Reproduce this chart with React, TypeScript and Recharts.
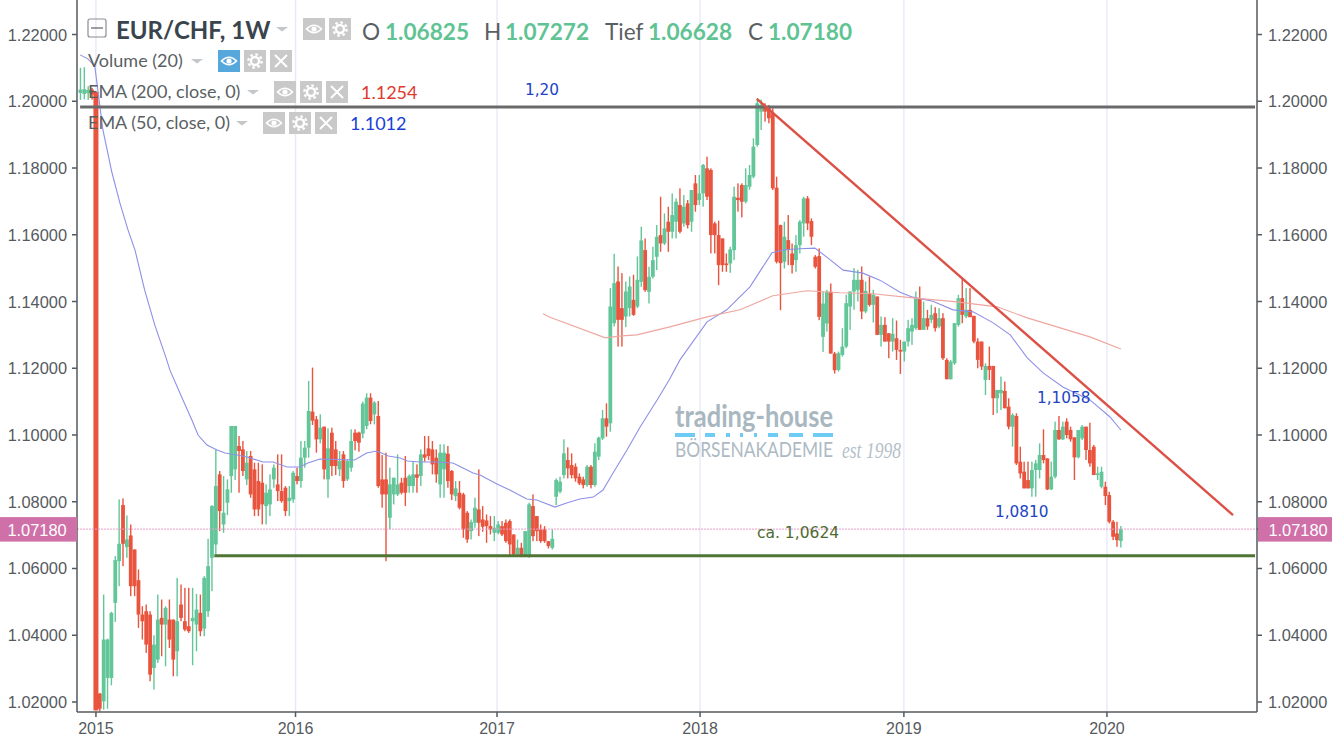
import React from "react";
import { ComposedChart, Bar, Line, XAxis, YAxis, CartesianGrid, ReferenceLine } from "recharts";

const WIDTH = 1332;
const HEIGHT = 741;
const UP = "#62c699";
const DOWN = "#e9543f";
const AXIS = "#555a5e";
const GRID = "#e9e9f6";

const yTicks = [1.02, 1.04, 1.06, 1.08, 1.1, 1.12, 1.14, 1.16, 1.18, 1.2, 1.22];
const lastPrice = 1.0718;
const yearTicks = [0, 51.6, 103.7, 156.2, 208.9, 261.4];
const yearLabels = ["2015", "2016", "2017", "2018", "2019", "2020"];
const firstWeek = -4;

// [open, high, low, close]
const candlesStart = [
  [1.2025, 1.21, 1.2004, 1.2035], [1.2022, 1.2102, 1.2006, 1.2036], [1.2024, 1.2045, 1.2004, 1.2034], [1.2035, 1.204, 1.2005, 1.202],
  [1.2028, 1.2028, 1.0175, 1.0175],
];
const candles2015a = [
  [1.0225, 1.0227, 1.0172, 1.018], [1.0202, 1.0522, 1.0177, 1.0387], [1.0272, 1.039, 1.018, 1.0387], [1.0272, 1.047, 1.025, 1.0467],
  [1.0497, 1.0637, 1.044, 1.0625], [1.0622, 1.0807, 1.0547, 1.0674], [1.079, 1.081, 1.0607, 1.0674], [1.0664, 1.0759, 1.0632, 1.0687],
  [1.0699, 1.0732, 1.0517, 1.0547], [1.0657, 1.0657, 1.0517, 1.0547], [1.0565, 1.0597, 1.0422, 1.0462], [1.0462, 1.0487, 1.0387, 1.0442],
  [1.0472, 1.0492, 1.0347, 1.0372], [1.0462, 1.0472, 1.0262, 1.0282], [1.0302, 1.04, 1.0237, 1.0372], [1.0327, 1.0522, 1.0317, 1.0447],
  [1.0452, 1.0507, 1.0337, 1.0432], [1.0432, 1.0487, 1.0307, 1.0482], [1.0447, 1.0507, 1.0362, 1.0387], [1.0447, 1.0447, 1.0277, 1.0327],
  [1.0352, 1.0572, 1.0277, 1.0442], [1.0492, 1.0552, 1.0442, 1.0452], [1.0442, 1.0542, 1.0412, 1.0417], [1.0427, 1.0542, 1.0407, 1.0412],
  [1.0442, 1.0542, 1.031, 1.0452], [1.0432, 1.0524, 1.0352, 1.0477],
];
const candles2015b = [
  [1.0467, 1.0522, 1.0397, 1.0412], [1.042, 1.0577, 1.0397, 1.0572], [1.0472, 1.0689, 1.0455, 1.0607], [1.0632, 1.079, 1.0532, 1.0787],
  [1.0672, 1.0957, 1.0642, 1.0847], [1.0882, 1.0892, 1.0712, 1.0772], [1.0732, 1.0877, 1.0707, 1.0767], [1.0797, 1.0867, 1.076, 1.0837],
  [1.0877, 1.1027, 1.0827, 1.1027], [1.0897, 1.1027, 1.0865, 1.1027], [1.0967, 1.0997, 1.0827, 1.0952], [1.0957, 1.0982, 1.0877, 1.0892],
  [1.0867, 1.0952, 1.085, 1.0917], [1.0937, 1.0952, 1.0812, 1.0822], [1.0897, 1.0917, 1.0757, 1.0777], [1.0862, 1.0917, 1.0757, 1.0777],
  [1.0857, 1.0912, 1.0732, 1.0792], [1.0787, 1.0852, 1.0732, 1.0827], [1.0792, 1.0882, 1.0757, 1.0837], [1.0867, 1.0912, 1.0842, 1.0902],
  [1.0852, 1.0942, 1.0802, 1.0832], [1.0832, 1.0942, 1.0797, 1.0802], [1.0842, 1.0847, 1.0757, 1.0772], [1.0802, 1.0847, 1.0757, 1.0812],
  [1.0807, 1.0892, 1.0797, 1.0887], [1.0877, 1.0902, 1.0852, 1.0862],
];
const candles2016a = [
  [1.0862, 1.0982, 1.0842, 1.0932], [1.0932, 1.0982, 1.0902, 1.0962], [1.0962, 1.1162, 1.0932, 1.1072], [1.107, 1.1202, 1.103, 1.1043],
  [1.1047, 1.1057, 1.0947, 1.0987], [1.0987, 1.1062, 1.0975, 1.1022], [1.1025, 1.1025, 1.0867, 1.0897], [1.0867, 1.102, 1.0812, 1.096],
  [1.1007, 1.1022, 1.0877, 1.0907], [1.0957, 1.0982, 1.088, 1.0907], [1.0897, 1.0952, 1.0877, 1.0922], [1.0942, 1.0952, 1.0842, 1.0862],
  [1.0867, 1.0927, 1.0862, 1.0922], [1.0902, 1.1017, 1.089, 1.0982], [1.1007, 1.1017, 1.0954, 1.0982], [1.1007, 1.101, 1.095, 1.0977],
  [1.1004, 1.11, 1.099, 1.1094], [1.1027, 1.1125, 1.1017, 1.1112], [1.1112, 1.1125, 1.1032, 1.1042], [1.1062, 1.1102, 1.1032, 1.1097],
  [1.1057, 1.1102, 1.0842, 1.0847], [1.0867, 1.094, 1.0782, 1.0822], [1.0867, 1.0947, 1.0622, 1.0822], [1.0752, 1.0902, 1.0717, 1.0852],
  [1.0822, 1.0872, 1.0792, 1.0872], [1.0822, 1.0942, 1.0817, 1.0852],
];
const candles2016b = [
  [1.0857, 1.0872, 1.0822, 1.0827], [1.0872, 1.0937, 1.0787, 1.0827], [1.0847, 1.0882, 1.0827, 1.0877], [1.0847, 1.0922, 1.0827, 1.0882],
  [1.0882, 1.0912, 1.0827, 1.0872], [1.0877, 1.0957, 1.0847, 1.0942], [1.0942, 1.0997, 1.092, 1.0932], [1.096, 1.0997, 1.0925, 1.0937],
  [1.0957, 1.0982, 1.0882, 1.0912], [1.0932, 1.0957, 1.0857, 1.0882], [1.0852, 1.0972, 1.0812, 1.0947], [1.0897, 1.0972, 1.0812, 1.0947],
  [1.0944, 1.0967, 1.0842, 1.0862], [1.0892, 1.0895, 1.0805, 1.0822], [1.0817, 1.0862, 1.0802, 1.084], [1.0827, 1.0862, 1.0777, 1.0782],
  [1.0822, 1.0827, 1.0692, 1.0717], [1.0767, 1.0772, 1.0677, 1.0687], [1.0712, 1.0747, 1.0687, 1.0739], [1.0737, 1.0812, 1.0722, 1.0782],
  [1.0777, 1.0897, 1.0697, 1.0737], [1.0747, 1.0787, 1.071, 1.0725], [1.0744, 1.0762, 1.0677, 1.0727], [1.0727, 1.0757, 1.0702, 1.0717],
  [1.0707, 1.0757, 1.0682, 1.0722], [1.0707, 1.0742, 1.0702, 1.0732],
];
const candles2017a = [
  [1.0727, 1.0742, 1.0697, 1.0702], [1.0737, 1.0747, 1.0677, 1.0682], [1.0742, 1.0747, 1.0637, 1.0672], [1.0702, 1.0702, 1.0637, 1.0642],
  [1.0642, 1.0687, 1.0637, 1.0662], [1.0662, 1.0677, 1.0634, 1.0637], [1.0637, 1.0712, 1.0634, 1.0712], [1.0637, 1.0797, 1.0632, 1.0792],
  [1.0787, 1.0822, 1.0682, 1.0697], [1.0757, 1.0757, 1.0682, 1.0712], [1.0717, 1.0732, 1.0677, 1.0682], [1.0717, 1.0727, 1.0677, 1.0682],
  [1.0682, 1.0682, 1.066, 1.0667], [1.0662, 1.0717, 1.0657, 1.0689], [1.0815, 1.087, 1.079, 1.0865], [1.083, 1.0875, 1.0825, 1.086],
  [1.088, 1.0987, 1.087, 1.0945], [1.0925, 1.0963, 1.087, 1.09], [1.091, 1.0945, 1.087, 1.088], [1.0905, 1.0915, 1.086, 1.087],
  [1.0875, 1.0885, 1.085, 1.0855], [1.0867, 1.0875, 1.084, 1.085], [1.085, 1.091, 1.0845, 1.0905], [1.0905, 1.091, 1.084, 1.085],
  [1.085, 1.0975, 1.0845, 1.095], [1.0935, 1.0995, 1.0925, 1.0992],
];
const candles2017b = [
  [1.099, 1.1075, 1.0985, 1.105], [1.105, 1.1095, 1.0995, 1.1025], [1.1035, 1.144, 1.101, 1.1385], [1.1335, 1.1543, 1.1325, 1.1455],
  [1.146, 1.1505, 1.1265, 1.1345], [1.138, 1.1485, 1.1265, 1.1345], [1.1355, 1.146, 1.1323, 1.143], [1.138, 1.1475, 1.1355, 1.1445],
  [1.1405, 1.148, 1.1357, 1.136], [1.1385, 1.1535, 1.138, 1.1465], [1.1459, 1.1624, 1.1444, 1.1583], [1.1554, 1.1589, 1.1429, 1.1434],
  [1.1429, 1.1504, 1.1394, 1.1474], [1.1474, 1.1564, 1.1469, 1.1524], [1.1534, 1.1629, 1.1494, 1.1594], [1.1599, 1.1714, 1.1549, 1.1574],
  [1.1574, 1.1664, 1.1569, 1.1619], [1.1639, 1.1684, 1.1549, 1.1609], [1.1609, 1.1724, 1.1589, 1.1659], [1.1639, 1.1709, 1.1589, 1.1699],
  [1.1689, 1.1739, 1.1604, 1.1609], [1.1634, 1.1719, 1.1624, 1.1684], [1.1694, 1.1704, 1.1619, 1.1629], [1.1639, 1.1734, 1.1609, 1.1734],
  [1.1754, 1.1779, 1.1669, 1.1689], [1.1704, 1.1779, 1.1689, 1.1724],
];
const candles2018a = [
  [1.1724, 1.1812, 1.1684, 1.1809], [1.1799, 1.1834, 1.1704, 1.1714], [1.1794, 1.1799, 1.1544, 1.1599], [1.1634, 1.1639, 1.1544, 1.1599],
  [1.1599, 1.1642, 1.1449, 1.1509], [1.1589, 1.1589, 1.1489, 1.1509], [1.1514, 1.1544, 1.1489, 1.1509], [1.1514, 1.1564, 1.1486, 1.1556],
  [1.1554, 1.1744, 1.1524, 1.1714], [1.1711, 1.1754, 1.1669, 1.1704], [1.1749, 1.1754, 1.1652, 1.1699], [1.1699, 1.1799, 1.1694, 1.1749],
  [1.1744, 1.1809, 1.1735, 1.1779], [1.1774, 1.1889, 1.1769, 1.1864], [1.1869, 1.2009, 1.1864, 1.1994], [1.1969, 1.2005, 1.1914, 1.1989],
  [1.1984, 1.1994, 1.1939, 1.1969], [1.1979, 1.1989, 1.1934, 1.1949], [1.1964, 1.1979, 1.1734, 1.1739], [1.1741, 1.1774, 1.1514, 1.1519],
  [1.1629, 1.163, 1.1374, 1.1515], [1.1519, 1.1639, 1.1499, 1.1594], [1.1584, 1.1659, 1.1509, 1.1554], [1.1544, 1.1574, 1.1484, 1.1509],
  [1.1524, 1.1599, 1.1489, 1.1569], [1.1569, 1.1644, 1.1544, 1.1639],
];
const candles2018b = [
  [1.1634, 1.1714, 1.1594, 1.1709], [1.1709, 1.1716, 1.1614, 1.1634], [1.1641, 1.1649, 1.1569, 1.1594], [1.1534, 1.1539, 1.1499, 1.1504],
  [1.1536, 1.1559, 1.1344, 1.1354], [1.1294, 1.1429, 1.1249, 1.1394], [1.1334, 1.1435, 1.131, 1.1429], [1.1429, 1.1454, 1.1244, 1.1244],
  [1.1244, 1.1249, 1.1184, 1.1194], [1.1195, 1.125, 1.119, 1.1245], [1.124, 1.132, 1.1235, 1.1265], [1.1265, 1.142, 1.126, 1.1395],
  [1.1385, 1.143, 1.1315, 1.143], [1.143, 1.15, 1.1375, 1.1465], [1.1435, 1.1495, 1.14, 1.1465], [1.1465, 1.1505, 1.1347, 1.137],
  [1.137, 1.146, 1.1365, 1.1432], [1.1425, 1.1475, 1.1385, 1.139], [1.139, 1.1435, 1.1337, 1.142], [1.1415, 1.1415, 1.13, 1.13],
  [1.13, 1.1355, 1.1265, 1.133], [1.133, 1.1353, 1.128, 1.128], [1.1305, 1.1305, 1.123, 1.128], [1.128, 1.135, 1.125, 1.1303],
  [1.129, 1.1343, 1.1225, 1.1255], [1.1255, 1.1285, 1.1183, 1.125],
];
const candles2019a = [
  [1.125, 1.128, 1.122, 1.128], [1.128, 1.1345, 1.1265, 1.132], [1.131, 1.135, 1.127, 1.133], [1.132, 1.143, 1.1315, 1.141],
  [1.141, 1.1445, 1.1315, 1.1315], [1.1315, 1.14, 1.1315, 1.135], [1.135, 1.1375, 1.1315, 1.1325], [1.1345, 1.139, 1.1335, 1.136],
  [1.1365, 1.1383, 1.131, 1.132], [1.1325, 1.138, 1.132, 1.135], [1.135, 1.1365, 1.1225, 1.123], [1.1225, 1.123, 1.1167, 1.1167],
  [1.1167, 1.1225, 1.1167, 1.122], [1.1215, 1.1335, 1.121, 1.1335], [1.133, 1.142, 1.1325, 1.141], [1.141, 1.147, 1.1335, 1.136],
  [1.1355, 1.144, 1.135, 1.1375], [1.1375, 1.144, 1.1353, 1.1353], [1.1357, 1.1357, 1.1275, 1.128], [1.128, 1.129, 1.12, 1.1225],
  [1.128, 1.128, 1.1195, 1.1205], [1.1165, 1.1215, 1.112, 1.1207], [1.1207, 1.1265, 1.1165, 1.1195], [1.1207, 1.1207, 1.106, 1.111],
  [1.111, 1.1135, 1.1065, 1.1135], [1.1125, 1.1175, 1.1075, 1.1135],
];
const candles2019b = [
  [1.1132, 1.116, 1.108, 1.108], [1.1085, 1.111, 1.1017, 1.1025], [1.1025, 1.1065, 1.0965, 1.106], [1.1057, 1.1065, 1.091, 1.0915],
  [1.092, 1.0965, 1.087, 1.0885], [1.089, 1.092, 1.084, 1.084], [1.0865, 1.092, 1.084, 1.084], [1.084, 1.092, 1.0815, 1.0895],
  [1.0895, 1.0925, 1.0815, 1.0915], [1.0895, 1.0975, 1.087, 1.094], [1.094, 1.1017, 1.0915, 1.0925], [1.093, 1.093, 1.0835, 1.0837],
  [1.0837, 1.092, 1.0835, 1.0875], [1.0875, 1.104, 1.087, 1.1015], [1.1015, 1.1057, 1.0985, 1.0987], [1.0987, 1.104, 1.0985, 1.1025],
  [1.104, 1.105, 1.099, 1.1], [1.1015, 1.1025, 1.098, 1.0987], [1.0993, 1.0993, 1.0865, 1.0933], [1.0933, 1.1015, 1.093, 1.1015],
  [1.099, 1.103, 1.0985, 1.1025], [1.1025, 1.1025, 1.0925, 1.0955], [1.0955, 1.1037, 1.0905, 1.0915], [1.0965, 1.097, 1.088, 1.088],
  [1.088, 1.0905, 1.0865, 1.0885], [1.0845, 1.0905, 1.084, 1.089],
];
const candles2020 = [
  [1.0845, 1.086, 1.079, 1.0817], [1.082, 1.083, 1.0735, 1.074], [1.074, 1.0745, 1.0685, 1.0695], [1.0705, 1.074, 1.0665, 1.0685],
  [1.06825, 1.07272, 1.06628, 1.0718],
];

const ema50Weeks = [-4.1, -2.1, -0.3, 1.8, 4.1, 6.2, 8.3, 10.1, 12.6, 15.2, 18.3, 19.1, 22.5, 24.8, 26.4, 28.7, 31.3, 33.4, 36.5, 39.1, 43.2, 45.8, 49.4, 52.7, 54.8, 57.9, 66.9, 70.0, 72.6, 75.6, 78.7, 80.5, 83.8, 88.2, 92.3, 94.9, 97.5, 99.3, 103.7, 107.0, 111.4, 114.0, 118.7, 121.7, 125.1, 128.6, 131.1, 133.7, 137.3, 140.7, 145.1, 148.2, 151.0, 158.0, 163.1, 169.1, 174.8, 178.2, 182.1, 185.9, 189.3, 193.2, 198.3, 202.7, 207.9, 211.2, 216.4, 221.6, 226.8, 232.0, 236.4, 240.8, 244.9, 250.0, 257.0, 262.2, 265.0];
const ema50Values = [1.2139, 1.2127, 1.2106, 1.1914, 1.1788, 1.1695, 1.1614, 1.1554, 1.1434, 1.133, 1.1225, 1.1195, 1.1105, 1.1045, 1.1, 1.097, 1.0955, 1.0946, 1.094, 1.0934, 1.0919, 1.0919, 1.0904, 1.0904, 1.0916, 1.0928, 1.0925, 1.0946, 1.0952, 1.0937, 1.0931, 1.0922, 1.0919, 1.0919, 1.0916, 1.0901, 1.0886, 1.088, 1.0853, 1.0835, 1.0808, 1.0805, 1.0784, 1.0796, 1.0808, 1.0814, 1.0835, 1.0886, 1.0955, 1.1024, 1.1105, 1.1165, 1.1225, 1.1339, 1.1375, 1.1444, 1.1546, 1.1555, 1.1558, 1.156, 1.153, 1.1494, 1.1485, 1.1464, 1.1428, 1.1413, 1.1401, 1.1375, 1.1369, 1.1336, 1.13, 1.1231, 1.1186, 1.1144, 1.1105, 1.1054, 1.1015];
const ema200Weeks = [115.6, 117.4, 131.7, 136.0, 139.9, 148.4, 158.0, 166.5, 175.0, 183.9, 192.4, 200.9, 211.2, 222.6, 233.0, 240.8, 249.3, 257.0, 265.0];
const ema200Values = [1.1363, 1.1353, 1.1291, 1.1297, 1.13, 1.1324, 1.1354, 1.1375, 1.1417, 1.1432, 1.1426, 1.1423, 1.1411, 1.1399, 1.1384, 1.1351, 1.1321, 1.1294, 1.1258];

const allCandles = [...candlesStart, ...candles2015a, ...candles2015b, ...candles2016a, ...candles2016b, ...candles2017a, ...candles2017b, ...candles2018a, ...candles2018b, ...candles2019a, ...candles2019b, ...candles2020];
const table = allCandles.map(([o, h, l, c], i) => ({ week: firstWeek + i, o, h, l, c, range: [l, h] }));
const ema50 = ema50Weeks.map((week, i) => ({ week, ema: ema50Values[i] }));
const ema200 = ema200Weeks.map((week, i) => ({ week, ema: ema200Values[i] }));

function Candle(props: any) {
  const { x, y, width, height, payload } = props;
  const { o, h, l, c } = payload;
  const top = Math.min(y, y + height);
  const span = Math.abs(height);
  const perUnit = h > l ? span / (h - l) : 0;
  const bodyTop = top + (h - Math.max(o, c)) * perUnit;
  const bodyH = Math.max(1.5, Math.abs(o - c) * perUnit);
  const cx = x + width / 2;
  const fill = c >= o ? UP : DOWN;
  const w = Math.abs(o - c) > 0.05 ? 5 : 3.8;
  return (
    <g>
      <rect x={cx - 0.7} y={top} width={1.4} height={span} fill={fill} />
      <rect x={cx - w / 2} y={bodyTop} width={w} height={bodyH} fill={fill} />
    </g>
  );
}

function PriceTick(props: any) {
  const { x, y, payload, orientation } = props;
  const left = orientation === "left";
  const isLast = payload.value === lastPrice;
  const text = payload.value.toFixed(5);
  if (isLast) {
    return (
      <g>
        <rect x={left ? 0 : x - 10} y={y - 12} width={left ? x + 10 : 75} height={24.5} fill="#cf70a9" />
        <text x={left ? 37 : x + 30} y={y + 6.5} textAnchor="middle" fontFamily="Liberation Sans" fontSize={16.4} fill="#ffffff">{text}</text>
      </g>
    );
  }
  return (
    <text x={x} y={y + 6} textAnchor={left ? "end" : "start"} fontFamily="Liberation Sans" fontSize={16.4} fill={AXIS}>{text}</text>
  );
}

const lato = "Lato, sans-serif";
const headGreen = "#5fc393";
const headDark = "#5a5f63";

function Eye({ x, y, bg = "#c9c9c9" }: any) {
  return (
    <g transform={`translate(${x},${y})`}>
      <rect width={22} height={22} fill={bg} />
      <path d="M3.5 11 Q11 3.5 18.5 11 Q11 18.5 3.5 11 Z" fill="none" stroke="#fff" strokeWidth={1.6} />
      <circle cx={11} cy={11} r={2.6} fill="#fff" />
    </g>
  );
}
function Gear({ x, y }: any) {
  return (
    <g transform={`translate(${x},${y})`}>
      <rect width={22} height={22} fill="#c9c9c9" />
      <circle cx={11} cy={11} r={4} fill="none" stroke="#fff" strokeWidth={2.4} />
      <circle cx={11} cy={11} r={6.6} fill="none" stroke="#fff" strokeWidth={2.4} strokeDasharray="2.6 2.6" />
    </g>
  );
}
function Close({ x, y }: any) {
  return (
    <g transform={`translate(${x},${y})`}>
      <rect width={22} height={22} fill="#c9c9c9" />
      <path d="M5 5 L17 17 M17 5 L5 17" stroke="#fff" strokeWidth={2} />
    </g>
  );
}
function Caret({ x, y }: any) {
  return <path d={`M${x} ${y} h12 l-6 4.5 z`} fill="#c4c7ca" />;
}

function Overlay() {
  return (
    <svg width={WIDTH} height={HEIGHT} style={{ position: "absolute", left: 0, top: 0, pointerEvents: "none" }}>
      <rect x={88} y={19} width={18} height={18} rx={2} fill="none" stroke="#8a8d90" strokeWidth={1.2} />
      <line x1={91} x2={103} y1={28} y2={28} stroke="#5c6064" strokeWidth={1.2} />
      <text x={116} y={39} fontFamily={lato} fontWeight={700} fontSize={24} fill="#3a444c">EUR/CHF, 1W</text>
      <Caret x={276} y={27} />
      <Eye x={303} y={18} />
      <Gear x={329} y={18} />
      <text x={362} y={40} fontFamily={lato} fontSize={22.6} fill={headDark}>O</text>
      <text x={385} y={40} fontFamily={lato} fontWeight={700} fontSize={22.6} fill={headGreen}>1.06825</text>
      <text x={484} y={40} fontFamily={lato} fontSize={22.6} fill={headDark}>H</text>
      <text x={505} y={40} fontFamily={lato} fontWeight={700} fontSize={22.6} fill={headGreen}>1.07272</text>
      <text x={605} y={40} fontFamily={lato} fontSize={22.6} fill={headDark}>Tief</text>
      <text x={648} y={40} fontFamily={lato} fontWeight={700} fontSize={22.6} fill={headGreen}>1.06628</text>
      <text x={748} y={40} fontFamily={lato} fontSize={22.6} fill={headDark}>C</text>
      <text x={768} y={40} fontFamily={lato} fontWeight={700} fontSize={22.6} fill={headGreen}>1.07180</text>

      <text x={88} y={67} fontFamily={lato} fontSize={18} fill={headDark}>Volume (20)</text>
      <Caret x={191} y={59} />
      <Eye x={218} y={50} bg="#56a8dc" />
      <Gear x={244} y={50} />
      <Close x={270} y={50} />

      <text x={88} y={98} fontFamily={lato} fontSize={18} fill={headDark}>EMA (200, close, 0)</text>
      <Caret x={247} y={90} />
      <Eye x={274} y={81} />
      <Gear x={300} y={81} />
      <Close x={326} y={81} />
      <text x={361} y={99} fontFamily={lato} fontSize={18} fill="#e0392f">1.1254</text>

      <text x={88} y={129} fontFamily={lato} fontSize={18} fill={headDark}>EMA (50, close, 0)</text>
      <Caret x={236} y={121} />
      <Eye x={263} y={112} />
      <Gear x={289} y={112} />
      <Close x={315} y={112} />
      <text x={350} y={130} fontFamily={lato} fontSize={18} fill="#1a3fd6">1.1012</text>

      <text x={525} y={95} fontFamily="DejaVu Sans" fontSize={15.3} fill="#2143c4">1,20</text>
      <text x={1037} y={403} fontFamily="DejaVu Sans" fontSize={15.3} fill="#2143c4">1,1058</text>
      <text x={995} y={517} fontFamily="DejaVu Sans" fontSize={15.3} fill="#2143c4">1,0810</text>
      <text x={757} y={538} fontFamily="DejaVu Sans" fontSize={15.5} fill="#4d6b30">ca. 1,0624</text>

      <text x={675} y={427} textLength={158} lengthAdjust="spacingAndGlyphs" fontFamily="Lato" fontWeight={700} fontSize={30} fill="#a9b7c0">trading-house</text>
      <g fill="#6ecbf4">
        <rect x={675} y={433} width={20} height={4} />
        <rect x={705} y={433} width={10} height={4} />
        <rect x={726} y={433} width={4} height={4} />
        <rect x={740} y={433} width={3} height={4} />
        <rect x={754} y={433} width={3} height={4} />
        <rect x={768} y={433} width={10} height={4} />
        <rect x={789} y={433} width={14} height={4} />
        <rect x={813} y={433} width={20} height={4} />
      </g>
      <g transform="translate(675,457) scale(0.82,1)">
        <text textLength={192.7} lengthAdjust="spacingAndGlyphs" fontFamily="Lato" fontWeight={400} fontSize={21} fill="#aebac3">BÖRSENAKADEMIE</text>
      </g>
      <text x={842} y={458} textLength={59} lengthAdjust="spacingAndGlyphs" fontFamily="Liberation Serif" fontStyle="italic" fontSize={23} fill="#b5c0c8">est 1998</text>
    </svg>
  );
}

export default function App() {
  return (
    <div style={{ position: "absolute", left: 0, top: 0, width: WIDTH, height: HEIGHT, background: "#fff", overflow: "hidden" }}>
      <ComposedChart width={WIDTH} height={HEIGHT} data={table} margin={{ top: 0, right: 0, bottom: 0, left: 0 }}>
        <CartesianGrid stroke={GRID} strokeWidth={1.4} horizontalValues={yTicks} verticalValues={yearTicks} />
        <XAxis
          dataKey="week"
          type="number"
          scale="linear"
          domain={[-4.9, 300.2]}
          allowDataOverflow
          ticks={yearTicks}
          interval={0}
          tickFormatter={(v: number) => yearLabels[yearTicks.indexOf(v)]}
          height={29}
          tickSize={5}
          tickMargin={6}
          tick={{ fill: AXIS, fontSize: 16, fontFamily: "Liberation Sans" }}
          stroke={AXIS}
          strokeWidth={1.5}
        />
        <YAxis
          yAxisId="left"
          orientation="left"
          width={77}
          domain={[1.017, 1.23034]}
          allowDataOverflow
          ticks={[...yTicks, lastPrice]}
          interval={0}
          tickSize={5}
          tickMargin={5}
          tick={<PriceTick orientation="left" />}
          stroke={AXIS}
          strokeWidth={1.5}
        />
        <YAxis
          yAxisId="right"
          orientation="right"
          width={75}
          domain={[1.017, 1.23034]}
          allowDataOverflow
          ticks={[...yTicks, lastPrice]}
          interval={0}
          tickSize={5}
          tickMargin={6}
          tick={<PriceTick orientation="right" />}
          stroke={AXIS}
          strokeWidth={1.5}
        />
        <ReferenceLine yAxisId="left" y={lastPrice} stroke="#eb9cc9" strokeWidth={1} strokeDasharray="2 1" />
        <Bar yAxisId="left" dataKey="range" barSize={4} shape={<Candle />} isAnimationActive={false} />
        <Line yAxisId="left" data={ema50} dataKey="ema" stroke="#8e90e6" strokeWidth={1.1} dot={false} type="linear" isAnimationActive={false} />
        <Line yAxisId="left" data={ema200} dataKey="ema" stroke="#eea69f" strokeWidth={1.1} dot={false} type="linear" isAnimationActive={false} />
        <ReferenceLine yAxisId="left" segment={[{ x: -4.1, y: 1.1983 }, { x: 299.7, y: 1.1983 }]} stroke="#6a6a6a" strokeWidth={3} />
        <ReferenceLine yAxisId="left" segment={[{ x: 30.6, y: 1.0638 }, { x: 299.7, y: 1.0638 }]} stroke="#4f7434" strokeWidth={3} />
        <ReferenceLine yAxisId="left" segment={[{ x: 170.9, y: 1.2007 }, { x: 294, y: 1.076 }]} stroke="#dc5146" strokeWidth={2.4} />
      </ComposedChart>
      <Overlay />
    </div>
  );
}
